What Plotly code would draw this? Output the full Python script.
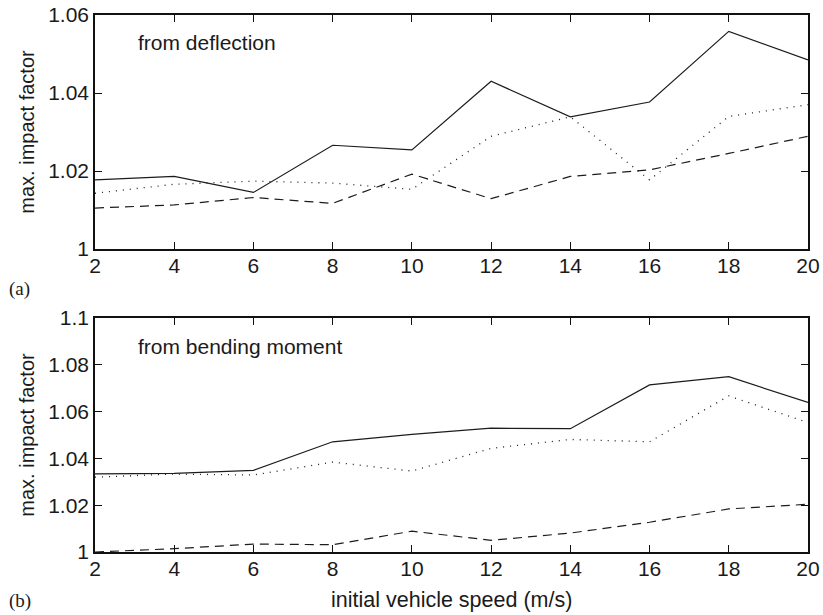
import plotly.graph_objects as go
from plotly.subplots import make_subplots

# Initial vehicle speed (m/s)
speed = [2, 4, 6, 8, 10, 12, 14, 16, 18, 20]

# (a) maximum impact factor from deflection
defl_solid = [1.0177, 1.0186, 1.0145, 1.0266, 1.0254, 1.0430, 1.0339, 1.0377, 1.0558, 1.0485]
defl_dotted = [1.0143, 1.0166, 1.0174, 1.0169, 1.0153, 1.0289, 1.0339, 1.0177, 1.0340, 1.0370]
defl_dashed = [1.0105, 1.0113, 1.0132, 1.0117, 1.0192, 1.0129, 1.0186, 1.0203, 1.0245, 1.0289]

# (b) maximum impact factor from bending moment
bend_solid = [1.0334, 1.0336, 1.0349, 1.0471, 1.0503, 1.0529, 1.0527, 1.0714, 1.0749, 1.0639]
bend_dotted = [1.0320, 1.0333, 1.0329, 1.0384, 1.0346, 1.0443, 1.0481, 1.0471, 1.0667, 1.0553]
bend_dashed = [1.0000, 1.0014, 1.0034, 1.0031, 1.0089, 1.0050, 1.0081, 1.0127, 1.0184, 1.0204]

x_ticks = [2, 4, 6, 8, 10, 12, 14, 16, 18, 20]

W, H = 823, 615
ML, MR, MT, MB = 95, 15, 15, 63
plot_h = H - MT - MB

def frac_y(px):
    """Pixel row (from top) -> paper fraction."""
    return (H - MB - px) / plot_h

def frac_x(px):
    return (px - ML) / (W - ML - MR)

fig = make_subplots(rows=2, cols=1)

ink = "#1c1c1c"
styles = [
    dict(color=ink, width=1.2, dash="solid"),
    dict(color=ink, width=1.3, dash="1px,6px"),
    dict(color=ink, width=1.2, dash="9px,6px"),
]

for row, series in ((1, (defl_solid, defl_dotted, defl_dashed)),
                    (2, (bend_solid, bend_dotted, bend_dashed))):
    for ys, st in zip(series, styles):
        fig.add_trace(go.Scatter(x=speed, y=ys, mode="lines", line=st,
                                 showlegend=False, hoverinfo="skip"),
                      row=row, col=1)

sans = "Liberation Sans, Arial, sans-serif"
tick_font = dict(family=sans, size=21, color="#1a1a1a")
axis_common = dict(
    showline=True, linecolor="#111", linewidth=1.5, mirror="ticks",
    ticks="inside", ticklen=7, tickwidth=1, tickcolor="#111",
    showgrid=False, zeroline=False, tickfont=tick_font, automargin=False,
)

fig.update_xaxes(range=[2, 20], tickvals=x_ticks, ticklabelstandoff=-3, **axis_common)
fig.update_yaxes(**axis_common)

fig.update_layout(
    xaxis=dict(domain=[0, 1]),
    xaxis2=dict(domain=[0, 1]),
    yaxis=dict(range=[1, 1.06], dtick=0.02, tick0=1, domain=[frac_y(249), 1.0]),
    yaxis2=dict(range=[1, 1.1], dtick=0.02, tick0=1, domain=[0.0, frac_y(318)]),
)

ytitle_font = dict(family=sans, size=20, color="#1a1a1a")
fig.update_yaxes(title_text="max. impact factor", title_font=ytitle_font, title_standoff=8, row=1, col=1)
fig.update_yaxes(title_text="max. impact factor", title_font=ytitle_font, title_standoff=8, row=2, col=1)

annotations = [
    dict(text="from deflection", x=frac_x(136), y=frac_y(43), xref="paper", yref="paper",
         xanchor="left", yanchor="middle", showarrow=False,
         font=dict(family=sans, size=21, color="#1a1a1a")),
    dict(text="from bending moment", x=frac_x(136), y=frac_y(346), xref="paper", yref="paper",
         xanchor="left", yanchor="middle", showarrow=False,
         font=dict(family=sans, size=21, color="#1a1a1a")),
    dict(text="initial vehicle speed (m/s)", x=0.5, y=frac_y(600), xref="paper", yref="paper",
         xanchor="center", yanchor="middle", showarrow=False,
         font=dict(family=sans, size=21.5, color="#1a1a1a")),
    dict(text="(a)", x=frac_x(7), y=frac_y(289), xref="paper", yref="paper",
         xanchor="left", yanchor="middle", showarrow=False,
         font=dict(family="Liberation Serif, Times New Roman, serif", size=19, color="#1a1a1a")),
    dict(text="(b)", x=frac_x(7), y=frac_y(601), xref="paper", yref="paper",
         xanchor="left", yanchor="middle", showarrow=False,
         font=dict(family="Liberation Serif, Times New Roman, serif", size=19, color="#1a1a1a")),
]

fig.update_layout(
    width=W, height=H,
    margin=dict(l=ML, r=MR, t=MT, b=MB),
    paper_bgcolor="white", plot_bgcolor="white",
    annotations=annotations,
)

fig.write_html("out.html")
